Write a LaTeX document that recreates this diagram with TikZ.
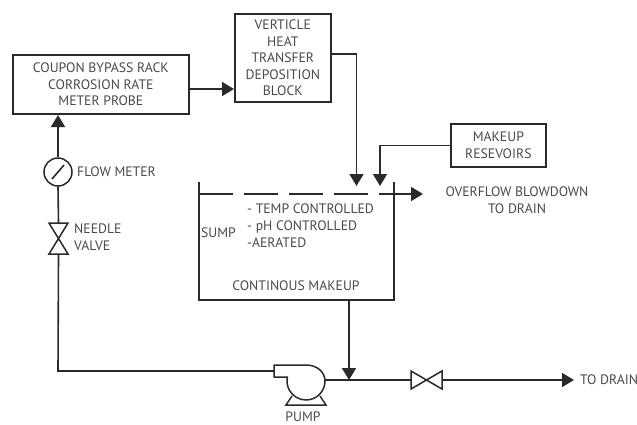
\documentclass[tikz,border=0pt]{standalone}
\usepackage{fontspec}
\setmainfont{PT Sans}
\usetikzlibrary{arrows.meta}
\definecolor{ink}{HTML}{2A2A2A}
\definecolor{txt}{HTML}{4A4A4A}
\tikzset{
  pipe/.style={draw=ink,line width=1.6pt},
  flow/.style={pipe,-{Triangle[width=14pt,length=12pt]}},
  boxn/.style={draw=ink,line width=1.7pt,inner sep=0pt,align=center,text=txt,anchor=north west,font=\fontsize{13.7}{16.6}\selectfont},
  lab/.style={inner sep=0pt,text=txt,font=\fontsize{13.7}{16.6}\selectfont},
  sym/.style={draw=ink,line width=1.5pt,fill=white}
}
\begin{document}
\begin{tikzpicture}[x=1pt,y=-1pt]
\useasboundingbox (0,0) rectangle (637,424);
% boxes
\node[boxn,minimum width=176pt,minimum height=59pt] (rack) at (12,54) {COUPON BYPASS RACK\\CORROSION RATE\\METER PROBE};
\node[boxn,minimum width=96pt,minimum height=88pt] (block) at (234,13) {VERTICLE\\HEAT\\TRANSFER\\DEPOSITION\\BLOCK};
\node[boxn,minimum width=95pt,minimum height=43pt] (res) at (450,123) {MAKEUP\\RESEVOIRS};
% coordinates
\coordinate (sumpTL) at (199,182);
\coordinate (sumpBL) at (199,300);
\coordinate (sumpBR) at (394,300);
\coordinate (sumpTR) at (394,182);
\coordinate (tipA) at (356.5,186);
\coordinate (tipB) at (380,186);
\coordinate (ovS) at (199,194);
\coordinate (ovE) at (423,194);
\coordinate (drop) at (349,300);
\coordinate (join) at (349,380);
\coordinate (drain) at (574,380);
\coordinate (corner) at (58,371);
% symbol nodes
\node[circle,sym,minimum size=28pt,inner sep=0pt] (fm) at (58,172) {};
\node[inner sep=0pt,minimum width=19pt,minimum height=31pt] (nv) at (58.5,238.5) {};
\node[inner sep=0pt,minimum width=31pt,minimum height=18pt] (gv) at (426.5,380) {};
\coordinate (pumpIn) at (274,371);
\coordinate (pumpOut) at (325,380);
% connectors
\draw[flow] (block.east |- 0,54) -- (tipA |- 0,54) -- (tipA);
\draw[flow] (res.west) -- (tipB |- res.west) -- (tipB);
\draw[flow] (190,89) -- (block.west |- 0,89);
\draw[flow] (fm.north) -- (58,115);
\draw[pipe] (nv.north) -- (fm.south);
\draw[pipe] (pumpIn) -- (corner) -- (nv.south);
\draw[flow] (drop) -- (join);
\draw[pipe] (pumpOut) -- (gv.west);
\draw[flow] (gv.east) -- (drain);
% sump
\draw[pipe] (sumpTL) -- (sumpBL) -- (sumpBR) -- (sumpTR);
\draw[pipe,dash pattern=on 34pt off 11pt] (ovS) -- (379,194);
\draw[flow] (379,194) -- (ovE);
% flow meter needle
\draw[pipe] (52,179) -- (64,165);
% needle valve
\draw[sym,fill=none,line join=miter] (49,223) -- (68,223) -- (49,254) -- (68,254) -- cycle;
% gate valve
\draw[sym,fill=none,line join=miter] (411,371) -- (411,389) -- (442,371) -- (442,389) -- cycle;
% pump
\draw[sym,line join=round] (274,377) -- (274,365) -- (306,365) .. controls (317,365) and (325,372) .. (325,381)
  arc[start angle=0,end angle=192,radius=19] -- cycle;
\draw[sym,fill=none,line join=miter] (292,396) -- (286,405) -- (326,405) -- (320,396);
% labels
\node[lab,anchor=west] (lfm) at (77,172) {FLOW METER};
\node[lab,anchor=west,align=left] (lnv) at (74,237) {NEEDLE\\VALVE};
\node[lab,anchor=west] (lsump) at (201,233) {SUMP};
\node[lab,anchor=north west,align=left] (lsp) at (247,204) {- TEMP CONTROLLED\\- pH CONTROLLED\\-AERATED};
\node[lab] (lcm) at (296,286) {CONTINOUS MAKEUP};
\node[lab,align=center] (lov) at (517,200) {OVERFLOW BLOWDOWN\\TO DRAIN};
\node[lab,anchor=west] (ltd) at (580,380) {TO DRAIN};
\node[lab] (lp) at (303,416.5) {PUMP};
\end{tikzpicture}
\end{document}
